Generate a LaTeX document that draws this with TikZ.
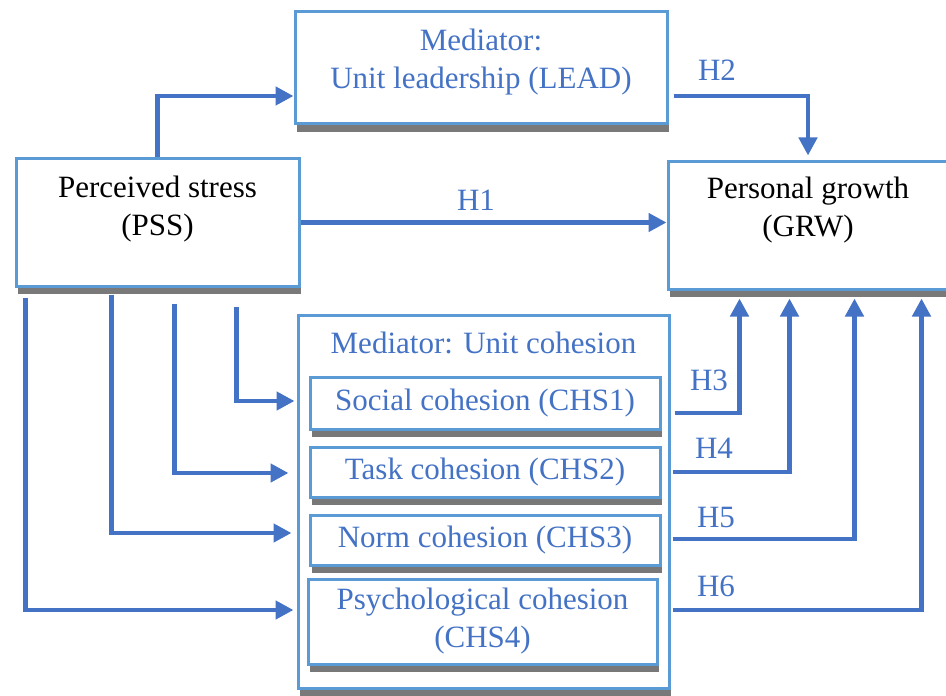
\documentclass[tikz,border=0pt]{standalone}
\usepackage{fontspec}
\setmainfont{Liberation Serif}
\usepackage{xcolor}
\usepackage{tikz}
\usetikzlibrary{positioning, arrows.meta, shadows, calc}
\definecolor{edgeblue}{HTML}{5B9BD5}
\definecolor{linkblue}{HTML}{4472C4}
\definecolor{textblue}{HTML}{4472C4}

\tikzset{
  box/.style={draw=edgeblue, line width=1.5pt, fill=white, inner sep=0pt,
    drop shadow={shadow xshift=1pt, shadow yshift=-4pt, fill=black!75, opacity=0.7}},
  boxtext/.style={align=center, inner sep=0pt, font=\fontsize{15.5}{19}\selectfont},
  link/.style={draw=linkblue, line width=2.4pt, -{Triangle[length=9pt,width=9pt]}},
  hyp/.style={text=textblue, inner sep=0pt, font=\fontsize{15.5}{19}\selectfont},
}

\begin{document}
\begin{tikzpicture}[x=0.5pt, y=-0.5pt]
  \clip (0,0) rectangle (946,695);

  % main boxes
  \node[box, minimum width=186pt, minimum height=56pt] (lead) at (481,68) {};
  \node[boxtext, text=textblue, below=9pt of lead.north] (leadtext) {Mediator:\\Unit leadership (LEAD)};

  \node[box, minimum width=141.5pt, minimum height=63.5pt] (pss) at (157.5,222.5) {};
  \node[boxtext, below=9pt of pss.north] (psstext) {Perceived stress\\(PSS)};

  \node[box, minimum width=140pt, minimum height=63.5pt] (grw) at (808,225.5) {};
  \node[boxtext, below=8pt of grw.north] (grwtext) {Personal growth\\(GRW)};

  % cohesion block
  \node[box, minimum width=185.5pt, minimum height=186.5pt] (coh) at (483.5,501.5) {};
  \node[boxtext, text=textblue, below=9pt of coh.north] (cohtext) {Mediator: Unit cohesion};

  \node[box, boxtext, text=textblue, minimum width=175pt, minimum height=26pt] (social) at (485,403) {Social cohesion (CHS1)};
  \node[box, boxtext, text=textblue, minimum width=175pt, minimum height=25pt] (task) at (485,472) {Task cohesion (CHS2)};
  \node[box, boxtext, text=textblue, minimum width=175pt, minimum height=25pt] (norm) at (485,540) {Norm cohesion (CHS3)};
  \node[box, boxtext, text=textblue, minimum width=174.5pt, minimum height=42.5pt] (psych) at (482.5,621.5) {Psychological cohesion\\(CHS4)};

  % hypothesis labels
  \node[hyp] (h1) at (476,200) {H1};
  \node[hyp] (h2) at (717,70) {H2};
  \node[hyp] (h3) at (709,380) {H3};
  \node[hyp] (h4) at (714,448) {H4};
  \node[hyp] (h5) at (716,517) {H5};
  \node[hyp] (h6) at (716,586) {H6};

  % paths into the mediators
  \draw[link] (pss.north) |- ($(lead.west)+(0,-14pt)$);
  \draw[link] ($(pss.south west)+(111pt,-9.5pt)$) |- ($(social.west -| coh.west)+(-1pt,1pt)$);
  \draw[link] ($(pss.south west)+(80pt,-8pt)$) |- ($(task.west -| coh.west)+(-4pt,-0.5pt)$);
  \draw[link] ($(pss.south west)+(48.5pt,-3.5pt)$) |- ($(norm.west -| coh.west)+(-2.5pt,3.5pt)$);
  \draw[link] ($(pss.south west)+(5.5pt,-5pt)$) |- ($(psych.west -| coh.west)+(-1.5pt,5.75pt)$);

  % paths into personal growth
  \draw[link] (pss.east) -- (pss.east -| grw.west);
  \draw[link] ($(lead.east)+(2.5pt,-14pt)$) -| ($(grw.north)+(0,2.5pt)$);
  \draw[link] ($(social.east -| coh.east)+(2pt,-5pt)$) -| ($(grw.south west)+(36.5pt,-4pt)$);
  \draw[link] ($(task.east -| coh.east)+(1pt,0)$) -| ($(grw.south west)+(61.5pt,-4pt)$);
  \draw[link] ($(norm.east -| coh.east)+(1pt,0.5pt)$) -| ($(grw.south west)+(94pt,-4pt)$);
  \draw[link] ($(psych.east -| coh.east)+(1pt,5.75pt)$) -| ($(grw.south west)+(127.5pt,-4pt)$);
\end{tikzpicture}
\end{document}
